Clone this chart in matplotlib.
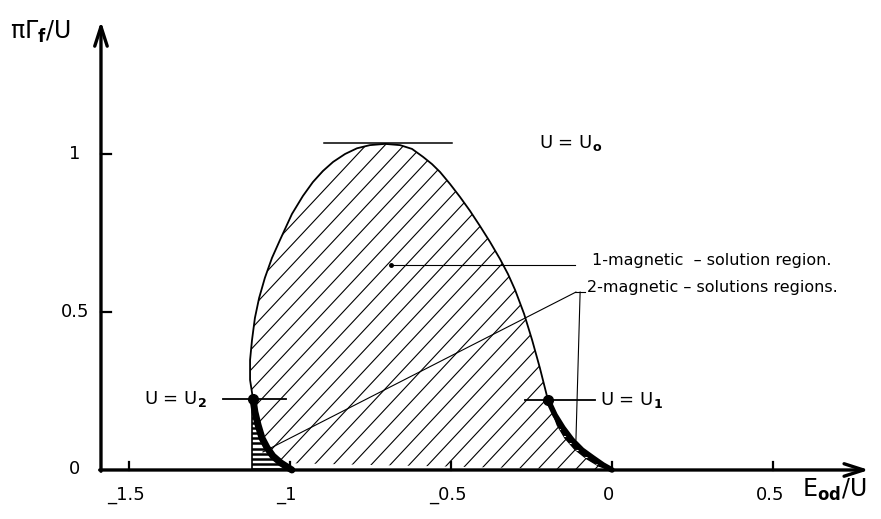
import numpy as np
import matplotlib
matplotlib.use("Agg")
import matplotlib.pyplot as plt
from matplotlib.patches import Polygon

plt.rcParams["font.family"] = ["DejaVu Sans"]
plt.rcParams["mathtext.fontset"] = "dejavusans"

# outer boundary of the solution region, from U = U2 over the top to U = U1
curve_x = [-1.115, -1.124, -1.124, -1.118, -1.109, -1.096, -1.078, -1.056, -1.031,
           -0.994, -0.960, -0.929, -0.898, -0.866, -0.829, -0.792, -0.752, -0.705,
           -0.658, -0.621, -0.587, -0.559, -0.534, -0.503, -0.472, -0.441, -0.410,
           -0.379, -0.348, -0.323, -0.301, -0.273, -0.248, -0.224, -0.199]
curve_y = [0.225, 0.285, 0.348, 0.411, 0.481, 0.544, 0.608, 0.671, 0.728,
           0.810, 0.867, 0.911, 0.946, 0.975, 1.000, 1.018, 1.028, 1.032,
           1.028, 1.016, 0.991, 0.968, 0.943, 0.905, 0.864, 0.820, 0.772,
           0.722, 0.668, 0.620, 0.570, 0.494, 0.411, 0.323, 0.222]

# 2-magnetic branches below U2 and U1
left_x = [-1.115, -1.109, -1.099, -1.087, -1.071, -1.053, -1.028, -0.994]
left_y = [0.225, 0.184, 0.142, 0.101, 0.070, 0.044, 0.022, 0.0]
left_edge = -1.118

right_x = [-0.199, -0.177, -0.152, -0.124, -0.093, -0.059, -0.028, 0.0]
right_y = [0.222, 0.174, 0.133, 0.095, 0.063, 0.038, 0.016, 0.0]
right_in_x = [-0.170, -0.146, -0.116, -0.079, -0.040]
right_in_y = [0.142, 0.101, 0.066, 0.036, 0.012]

u0 = 1.035
u2 = (-1.115, 0.225)
u1 = (-0.199, 0.222)
one_mag = (-0.686, 0.649)

xticks = [-1.5, -1, -0.5, 0, 0.5]
xtick_labels = ["_1.5", "_1", "_0.5", "0", "0.5"]
yticks = [0.5, 1]
ytick_labels = ["0.5", "1"]

fig = plt.figure(figsize=(8.81, 5.19), dpi=100)
ax = fig.add_axes([0, 0, 1, 1])
ax.set_xlim(-1.9006, 0.8354)
ax.set_ylim(-0.1551, 1.4873)
ax.axis("off")

x0, y0 = -1.587, 0.0

# main region, hatched with slanted lines
main_x = curve_x + right_x[1:] + left_x[::-1][1:]
main_y = curve_y + right_y[1:] + left_y[::-1][1:]
main = Polygon(np.column_stack([main_x, main_y]), closed=True,
               facecolor="none", edgecolor="none")
ax.add_patch(main)
slope = 1.09
for c in np.arange(-2.12, 0.05, 0.059):
    ln, = ax.plot([c, c + 1.2 / slope], [0, 1.2], color="black", lw=0.8)
    ln.set_clip_path(main)

# left wedge, horizontal hatching
lw_x = [left_edge] + left_x + [left_edge]
lw_y = [left_y[0]] + left_y + [0.0]
wedge_l = Polygon(np.column_stack([lw_x, lw_y]), closed=True,
                  facecolor="none", edgecolor="none")
ax.add_patch(wedge_l)
for h in np.arange(0.004, 0.23, 0.016):
    ln, = ax.plot([-1.2, -0.9], [h, h], color="black", lw=1.8)
    ln.set_clip_path(wedge_l)
ax.plot([left_edge, left_edge], [0, left_y[0]], color="black", lw=1.2)
ax.plot(left_x, left_y, color="black", lw=5, solid_capstyle="round")

# right wedge
rw_x = right_x + right_in_x[::-1]
rw_y = right_y + right_in_y[::-1]
wedge_r = Polygon(np.column_stack([rw_x, rw_y]), closed=True,
                  facecolor="black", edgecolor="black", lw=1.0)
ax.add_patch(wedge_r)
for h in np.arange(0.02, 0.15, 0.022):
    ln, = ax.plot([-0.2, 0.0], [h, h], color="white", lw=0.8)
    ln.set_clip_path(wedge_r)
ax.plot(right_x, right_y, color="black", lw=4, solid_capstyle="round")

ax.plot(curve_x, curve_y, color="black", lw=1.3)

# axes with open arrow heads
ax.annotate("", xy=(0.798, y0), xytext=(x0 - 0.004, y0),
            arrowprops=dict(arrowstyle="->,head_length=1.4,head_width=0.45",
                            lw=2.4, color="black", shrinkA=0, shrinkB=0))
ax.annotate("", xy=(x0, 1.42), xytext=(x0, y0 - 0.004),
            arrowprops=dict(arrowstyle="->,head_length=1.4,head_width=0.45",
                            lw=2.4, color="black", shrinkA=0, shrinkB=0))
for t, lab in zip(xticks, xtick_labels):
    ax.plot([t, t], [0, 0.026], color="black", lw=1.6)
    ax.text(t - 0.01, -0.078, lab, ha="center", va="center", fontsize=13)
for t, lab in zip(yticks, ytick_labels):
    ax.plot([x0, x0 + 0.031], [t, t], color="black", lw=1.6)
    ax.text(-1.668, t, lab, ha="center", va="center", fontsize=13)
ax.text(-1.668, 0.004, "0", ha="center", va="center", fontsize=13)

ax.text(-1.868, 1.385, r"πΓ$_{\mathbf{f}}$/U", ha="left", va="center", fontsize=17)
ax.text(0.59, -0.063, r"E$_{\mathbf{od}}$/U", ha="left", va="center", fontsize=17)

# markers for U0, U1, U2
ax.plot([-0.894, -0.497], [u0, u0], color="black", lw=1.1)
ax.text(-0.226, u0, r"U = U$_{\mathbf{o}}$", ha="left", va="center", fontsize=13)

ax.plot([-1.208, -1.012], [u2[1], u2[1]], color="black", lw=1.3)
ax.plot(*u2, "o", color="black", ms=7)
ax.text(-1.452, u2[1], r"U = U$_{\mathbf{2}}$", ha="left", va="center", fontsize=13)

ax.plot([-0.270, -0.053], [u1[1], u1[1]], color="black", lw=1.3)
ax.plot(*u1, "o", color="black", ms=7)
ax.text(-0.037, u1[1], r"U = U$_{\mathbf{1}}$", ha="left", va="center", fontsize=13)

# region labels with leader lines
ax.plot(*one_mag, "o", color="black", ms=2.5)
ax.plot([one_mag[0], -0.115], [one_mag[1], one_mag[1]], color="black", lw=0.8)
ax.text(-0.062, 0.662, "1-magnetic  – solution region.", ha="left", va="center",
        fontsize=11.5)

ax.plot([-0.115, -0.084], [0.563, 0.563], color="black", lw=0.8)
ax.plot([-0.099, -0.112], [0.563, 0.095], color="black", lw=0.8)
ax.plot([-0.112, -1.084], [0.563, 0.057], color="black", lw=0.8)
ax.text(-0.078, 0.576, "2-magnetic – solutions regions.", ha="left", va="center",
        fontsize=11.5)

fig.savefig("out.png", dpi=100)
